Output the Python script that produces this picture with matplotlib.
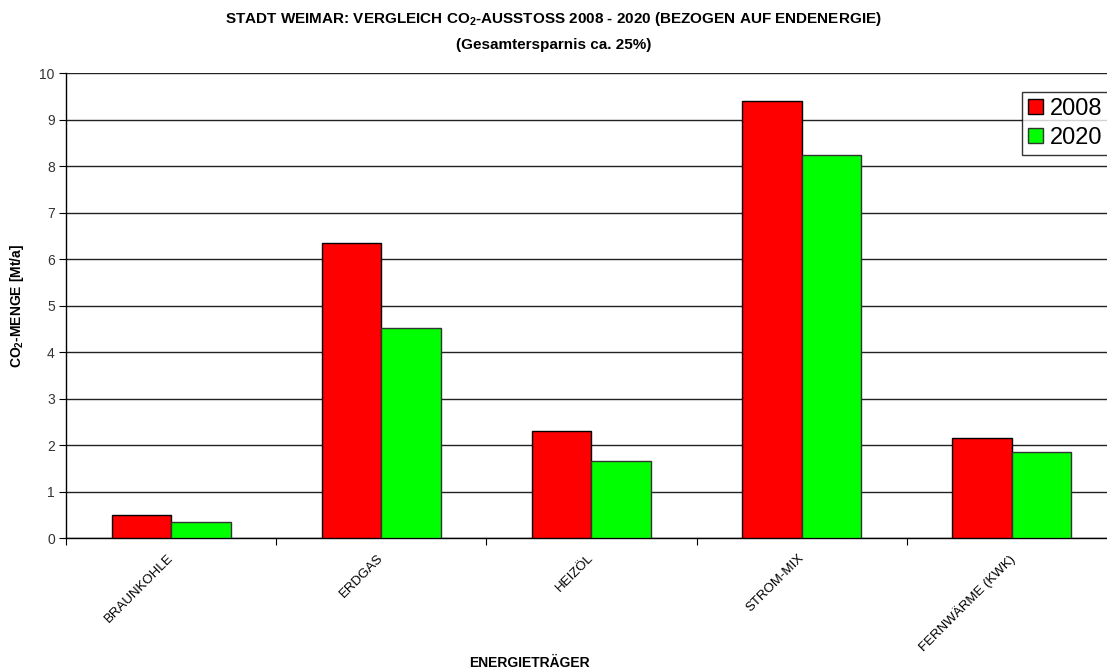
import numpy as np
import matplotlib
matplotlib.use("Agg")
import matplotlib.pyplot as plt

# DATA

categories = ["BRAUNKOHLE", "ERDGAS", "HEIZÖL", "STROM-MIX", "FERNWÄRME (KWK)"]
values_2008 = [0.49, 6.34, 2.30, 9.40, 2.15]
values_2020 = [0.35, 4.52, 1.66, 8.24, 1.85]
series_labels = ["2008", "2020"]
y_ticks = list(range(0, 11))

# STYLE

plt.rcParams["font.family"] = ["Liberation Sans", "DejaVu Sans"]
plt.rcParams["mathtext.fontset"] = "custom"
plt.rcParams["mathtext.rm"] = "Liberation Sans:bold"
plt.rcParams["mathtext.it"] = "Liberation Sans:bold"
plt.rcParams["mathtext.bf"] = "Liberation Sans:bold"

fig = plt.figure(figsize=(11.07, 6.70), dpi=100)
ax = fig.add_axes([0.0596, 0.197, 1.009 - 0.0596, 0.891 - 0.197])

x = np.arange(len(categories))
w = 0.283

ax.bar(x - w / 2, values_2008, w, color="#ff0000", edgecolor="black",
       linewidth=1, label=series_labels[0], zorder=3)
ax.bar(x + w / 2, values_2020, w, color="#00ff00", edgecolor="#333333",
       linewidth=1, label=series_labels[1], zorder=3)

ax.set_xlim(-0.5, len(categories) - 0.5)
ax.set_ylim(0, 10)
ax.set_yticks(y_ticks)
ax.yaxis.grid(True, color="#222222", linewidth=1)
ax.set_axisbelow(True)

# x ticks sit between groups, labels at group centres
ax.set_xticks(np.arange(-0.5, len(categories) + 0.5, 1.0))
ax.set_xticklabels([])
ax.tick_params(axis="x", direction="out", length=5, width=0.8)
ax.tick_params(axis="y", direction="out", length=5, width=0.8,
               labelsize=10, labelcolor="#333333", pad=3)

for xi, name in zip(x, categories):
    ax.text(xi - 0.02, -0.3, name, rotation=45, ha="right", va="top",
            rotation_mode="anchor", fontsize=9.5,
            transform=ax.transData)

for s in ["top", "right"]:
    ax.spines[s].set_visible(False)
ax.spines["left"].set_linewidth(1)
ax.spines["bottom"].set_linewidth(1)

ax.set_ylabel("CO$_2$-MENGE [Mt/a]", fontsize=10, fontweight="bold", labelpad=10)
fig.text(0.478, 0.0, "ENERGIETRÄGER", ha="center", va="bottom",
         fontsize=10, fontweight="bold")

fig.text(0.5, 0.985, "STADT WEIMAR: VERGLEICH CO$_2$-AUSSTOSS 2008 - 2020 (BEZOGEN AUF ENDENERGIE)",
         ha="center", va="top", fontsize=11, fontweight="bold")
fig.text(0.5, 0.943, "(Gesamtersparnis ca. 25%)", ha="center", va="top",
         fontsize=11, fontweight="bold")

leg = fig.legend(loc="upper left", bbox_to_anchor=(0.923, 0.863),
                 fontsize=17, frameon=True, fancybox=False, shadow=False,
                 handlelength=0.65, handleheight=0.65, handletextpad=0.3,
                 borderpad=0.25, labelspacing=0.3, borderaxespad=0)
leg.get_frame().set_edgecolor("black")
leg.get_frame().set_linewidth(1)

fig.savefig("out.png", dpi=100)
